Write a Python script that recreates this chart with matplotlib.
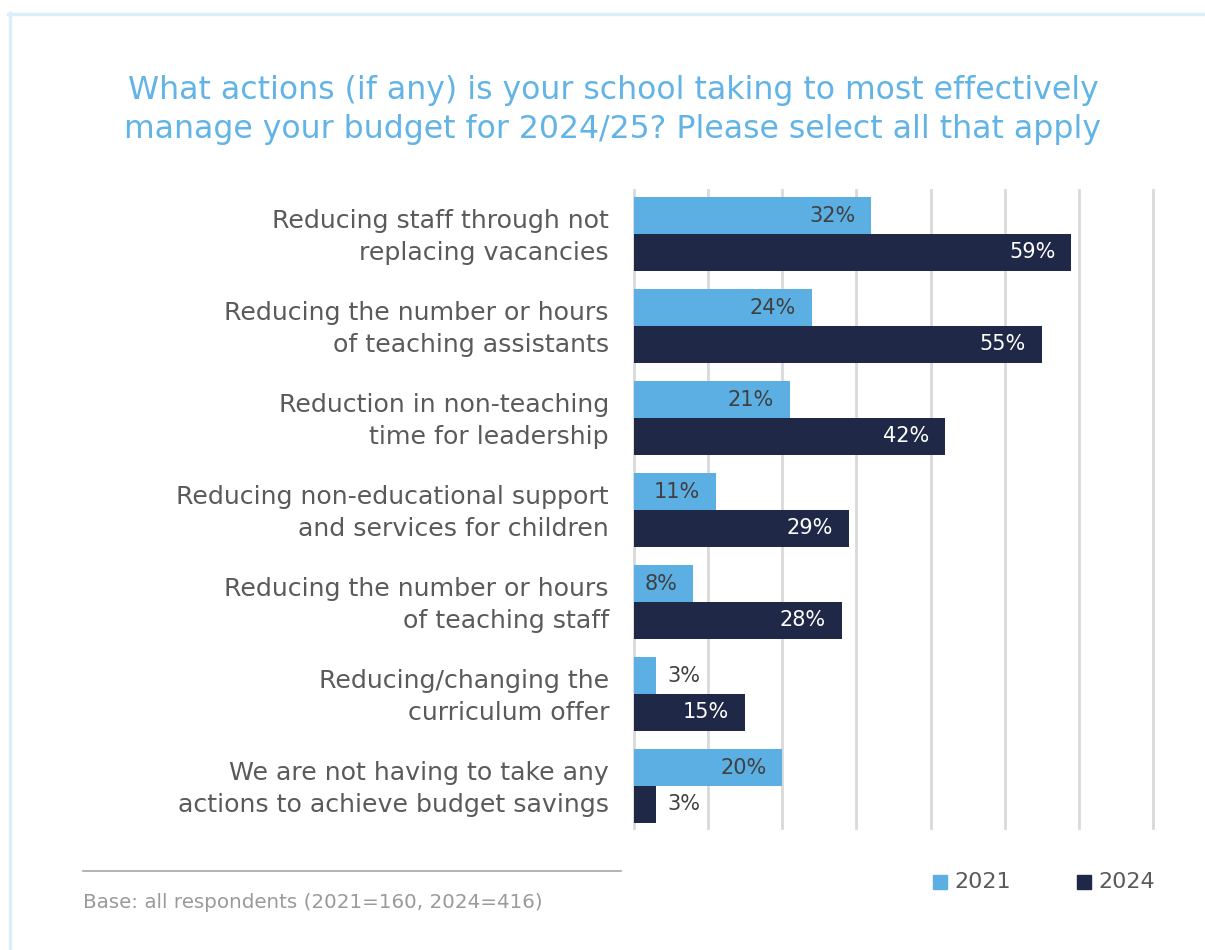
import matplotlib
matplotlib.use("Agg")
import matplotlib.pyplot as plt
import matplotlib.transforms as mtransforms
from matplotlib.lines import Line2D
from matplotlib.patches import Rectangle
import numpy as np

plt.rcParams['font.family'] = ['DejaVu Sans']

categories = [
    "Reducing staff through not\nreplacing vacancies",
    "Reducing the number or hours\nof teaching assistants",
    "Reduction in non-teaching\ntime for leadership",
    "Reducing non-educational support\nand services for children",
    "Reducing the number or hours\nof teaching staff",
    "Reducing/changing the\ncurriculum offer",
    "We are not having to take any\nactions to achieve budget savings",
]
values_2021 = [32, 24, 21, 11, 8, 3, 20]
values_2024 = [59, 55, 42, 29, 28, 15, 3]
series_names = ["2021", "2024"]

title = ("What actions (if any) is your school taking to most effectively\n"
         "manage your budget for 2024/25? Please select all that apply")
base_note = "Base: all respondents (2021=160, 2024=416)"

C_LIGHT = "#5BAFE3"
C_DARK = "#1F2847"
C_TITLE = "#62B4E6"
C_TEXT = "#5A5A5A"
C_GRID = "#D9D9D9"

W, H = 1205, 950
fig = plt.figure(figsize=(W / 100, H / 100), dpi=100)

def fx(px):
    return px / W

def fy(py):
    return 1 - py / H

# page frame
fig.add_artist(Line2D([fx(9.5), fx(9.5)], [fy(13), 0], color="#DCEEF9", lw=2.5))
fig.add_artist(Line2D([fx(8), 1], [fy(14), fy(14)], color="#DCEEF9", lw=2.5))

ax = fig.add_axes([fx(634), fy(828), fx(1153) - fx(634), fy(190) - fy(828)])

y = np.arange(len(categories))
h = 0.4
ax.barh(y - h / 2, values_2021, height=h, color=C_LIGHT, zorder=3)
ax.barh(y + h / 2, values_2024, height=h, color=C_DARK, zorder=3)

ax.set_xlim(0, 70)
ax.set_ylim(len(categories) - 1 + 0.457, -0.478)
ax.set_xticks(np.arange(0, 71, 10))
ax.grid(axis="x", color=C_GRID, lw=2, zorder=0)
for gl in ax.get_xgridlines():
    gl.set_clip_on(False)
ax.tick_params(axis="x", length=0, labelbottom=False)
ax.tick_params(axis="y", length=0, pad=18)
ax.set_yticks(y)
ax.set_yticklabels(categories, fontsize=18.2, color=C_TEXT, linespacing=1.42)
lift = mtransforms.ScaledTranslation(0, 3 / 100, fig.dpi_scale_trans)
for lab in ax.get_yticklabels():
    lab.set_transform(lab.get_transform() + lift)
for s in ax.spines.values():
    s.set_visible(False)

# value labels: inside the bar end when it fits, otherwise just outside
for vals, yy, inside_col in ((values_2021, y - h / 2, "#404040"), (values_2024, y + h / 2, "white")):
    for v, yc in zip(vals, yy):
        lbl = f"{v}%"
        if v >= 6:
            ax.annotate(lbl, (v, yc), xytext=(-11.5, 0), textcoords="offset points",
                        ha="right", va="center", fontsize=15, color=inside_col, zorder=4)
        else:
            ax.annotate(lbl, (v, yc), xytext=(8, 0), textcoords="offset points",
                        ha="left", va="center", fontsize=15, color="#404040", zorder=4)

fig.text(fx(613), fy(110), title, ha="center", va="center", fontsize=22.7,
         color=C_TITLE, linespacing=1.32)

# footnote rule and base text
fig.add_artist(Line2D([fx(83), fx(621)], [fy(871), fy(871)], color="#A6A6A6", lw=1.2))
fig.text(fx(83), fy(902), base_note, ha="left", va="center", fontsize=14.3, color="#9A9A9A")

# legend
for (x0, name, col) in ((933, series_names[0], C_LIGHT), (1077, series_names[1], C_DARK)):
    fig.add_artist(Rectangle((fx(x0), fy(889)), fx(14), 14 / H, color=col,
                             transform=fig.transFigure))
    fig.text(fx(x0 + 21), fy(882), name, ha="left", va="center", fontsize=16, color=C_TEXT)

fig.savefig("out.png", dpi=100, facecolor="white")
